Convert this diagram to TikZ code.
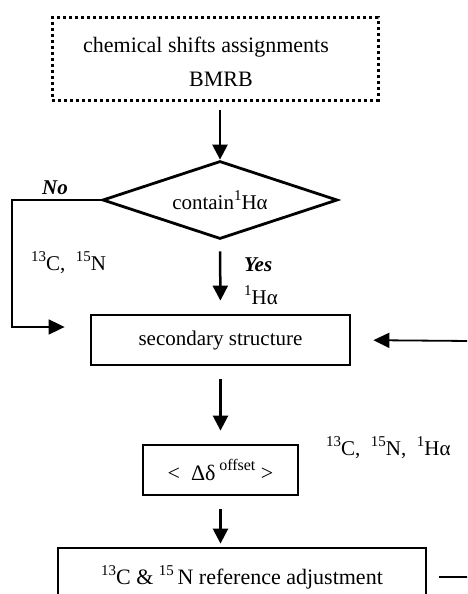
\documentclass[tikz,border=0pt]{standalone}
\usepackage{fontspec}
\setmainfont{Liberation Serif}
\usetikzlibrary{arrows.meta,shapes.geometric}
\newcommand{\upn}[1]{\raisebox{0.42em}{\fontsize{15}{15}\selectfont #1}}
\tikzset{
  txt/.style={font=\fontsize{21}{24}\selectfont, inner sep=0pt},
  box/.style={draw, line width=2.8pt, inner sep=0pt, font=\fontsize{21}{24}\selectfont, align=center},
  dotbox/.style={draw, line width=3pt, dash pattern=on 3pt off 3pt, inner sep=0pt},
  decision/.style={draw, diamond, aspect=3.01, line width=2.8pt, inner sep=0pt, font=\fontsize{21}{24}\selectfont},
  arr/.style={line width=2.5pt, -{Triangle[length=15pt,width=15pt]}},
  thinarr/.style={line width=1.8pt, -{Triangle[length=16pt,width=15pt]}},
  thinline/.style={line width=1.8pt}
}
\begin{document}
\begin{tikzpicture}[x=1pt,y=-1pt]
\clip (0,0) rectangle (467,594);
\fill[white] (0,0) rectangle (467,594);
\node[dotbox, minimum width=326pt, minimum height=82pt] (src) at (215,59) {};
\node[txt, font=\fontsize{22}{24}\selectfont] (l1) at (206,47) {chemical shifts assignments};
\node[txt, font=\fontsize{22}{24}\selectfont] (l2) at (221,79) {BMRB};
\node[decision, minimum width=235pt, minimum height=78pt] (dec) at (220,200) {contain\upn{1}Hα};
\node[box, minimum width=259pt, minimum height=50pt] (sec) at (220.5,340) {secondary structure};
\node[box, minimum width=155pt, minimum height=50pt, font=\fontsize{22}{24}\selectfont] (off) at (220.5,470) {<\ \ Δδ\,\raisebox{0.42em}{\fontsize{16}{16}\selectfont offset}\ >};
\node[box, minimum width=368pt, minimum height=58pt, font=\fontsize{22}{24}\selectfont] (ref) at (242,577) {\upn{13}C \& \upn{15}\,N reference adjustment};
\node[txt, font=\fontsize{21}{24}\selectfont\bfseries\itshape] (no) at (55,188) {No};
\node[txt, anchor=west] (cn) at (31,263) {\upn{13}C,\ \ \upn{15}N};
\node[txt, font=\fontsize{21}{24}\selectfont\bfseries\itshape, anchor=west] (yes) at (244,265) {Yes};
\node[txt, anchor=west] (ha) at (244,295) {\upn{1}Hα};
\node[txt, anchor=west] (cnh) at (326,448) {\upn{13}C,\ \ \upn{15}N,\ \ \upn{1}Hα};
\coordinate (rin) at (470,341);
\coordinate (rout) at (470,577);
\draw[arr] (src.south -| dec.north) ++(0,8) -- (dec.north);
\draw[arr, shorten <=11pt, shorten >=13pt] (dec.south) -- (sec.north);
\draw[thinarr, shorten >=25pt] (dec.west) -- ++(-89,0) |- ([yshift=13pt]sec.west);
\draw[thinarr, shorten >=22pt] (rin) -- (sec.east);
\draw[arr, shorten <=13pt, shorten >=13pt] (sec.south) -- (off.north);
\draw[arr, shorten <=13pt, shorten >=3pt] (off.south) -- (ref.north -| off.south);
\draw[thinline, shorten <=12pt] (ref.east) -- (rout);
\end{tikzpicture}
\end{document}
